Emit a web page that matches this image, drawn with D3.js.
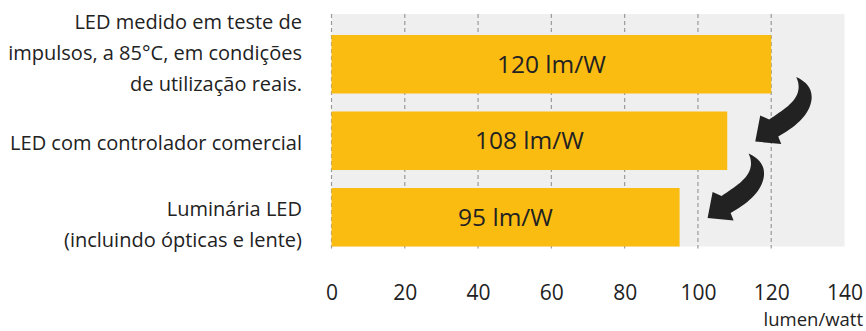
<!DOCTYPE html>
<html>
<head>
<meta charset="utf-8">
<script src="https://cdn.jsdelivr.net/npm/d3@7"></script>
<style>
  html, body { margin: 0; padding: 0; background: #fff; }
  svg { display: block; font-family: "Open Sans", "Noto Sans", sans-serif; }
</style>
</head>
<body>
<svg id="chart" width="866" height="331"></svg>
<script>
// Luminous efficacy at each stage, lumen per watt
const categories = ["led_test", "led_driver", "luminaire"];
const categoryLines = [
  ["LED medido em teste de", "impulsos, a 85°C, em condições", "de utilização reais."],
  ["LED com controlador comercial"],
  ["Luminária LED", "(incluindo ópticas e lente)"]
];
const values = [120, 108, 95];
const valueLabels = ["120 lm/W", "108 lm/W", "95 lm/W"];
const ticks = [0, 20, 40, 60, 80, 100, 120, 140];
const axisTitle = "lumen/watt";

const svg = d3.select("#chart");
const barColor = "#fbbc12";
const ink = "#222";

const x = d3.scaleLinear().domain([0, 140]).range([331.5, 844.5]);
const y = d3.scaleBand().domain(categories)
  .range([26, 255.5]).paddingInner(0.235).paddingOuter(0.1175);

const plotTop = 14, plotBottom = y(categories[2]) + y.bandwidth();

// plot background
svg.append("rect")
  .attr("x", x(0)).attr("y", plotTop)
  .attr("width", x(140) - x(0)).attr("height", plotBottom - plotTop)
  .attr("fill", "#efefef");

// dashed vertical gridlines
svg.append("g").selectAll("line")
  .data(ticks.filter(t => t < 140))
  .join("line")
  .attr("x1", d => x(d)).attr("x2", d => x(d))
  .attr("y1", plotTop).attr("y2", plotBottom + 2)
  .attr("stroke", "#9a9a9a").attr("stroke-width", 1.2)
  .attr("stroke-dasharray", "4,3");

// bars
svg.append("g").selectAll("rect")
  .data(categories)
  .join("rect")
  .attr("x", x(0))
  .attr("y", d => y(d))
  .attr("width", (d, i) => x(values[i]) - x(0))
  .attr("height", y.bandwidth())
  .attr("fill", barColor);

// value labels inside bars
svg.append("g").selectAll("text")
  .data(categories)
  .join("text")
  .attr("x", (d, i) => (x(0) + x(values[i])) / 2)
  .attr("y", d => y(d) + y.bandwidth() / 2)
  .attr("dy", "0.35em")
  .attr("text-anchor", "middle")
  .attr("font-size", 24.5)
  .attr("font-weight", 500)
  .attr("fill", ink)
  .text((d, i) => valueLabels[i]);

// category labels, right-aligned beside each bar
const lineH = 31;
const catG = svg.append("g");
categories.forEach((c, i) => {
  const lines = categoryLines[i];
  const cy = y(c) + y.bandwidth() / 2 + (i === 0 ? -11 : (i === 2 ? 7 : 2));
  const t = catG.append("text")
    .attr("text-anchor", "end")
    .attr("font-size", 20)
    .attr("fill", ink);
  lines.forEach((ln, k) => {
    t.append("tspan")
      .attr("x", 302)
      .attr("y", cy + (k - (lines.length - 1) / 2) * lineH)
      .attr("dy", "0.35em")
      .text(ln);
  });
});

// x axis tick labels
const axis = svg.append("g")
  .attr("transform", "translate(0,299.5)")
  .call(d3.axisBottom(x).tickValues(ticks).tickSize(0).tickPadding(0));
axis.select(".domain").remove();
axis.selectAll("text")
  .attr("y", 0).attr("dy", null)
  .attr("font-size", 21)
  .attr("font-family", "Open Sans, Noto Sans, sans-serif")
  .attr("fill", ink);

svg.append("text")
  .attr("x", 863).attr("y", 325.5)
  .attr("text-anchor", "end")
  .attr("font-size", 18.5)
  .attr("fill", ink)
  .text(axisTitle);

// curved arrows pointing down to each following, lower bar
const arrowPath = "M0,0 L5,-26 L14,-22 C27,-31 41,-39 43,-51 C44,-56 43,-60 41,-64.5 " +
  "C53,-59 58,-51 56,-40 C53,-25 39,-14 23,-5 L26,2.5 Z";
svg.append("g").selectAll("path")
  .data(categories.slice(1))
  .join("path")
  .attr("transform", d => {
    const i = categories.indexOf(d);
    return `translate(${x(values[i]) + 28},${y(d) + 30})`;
  })
  .attr("d", arrowPath)
  .attr("fill", "#222");
</script>
</body>
</html>
